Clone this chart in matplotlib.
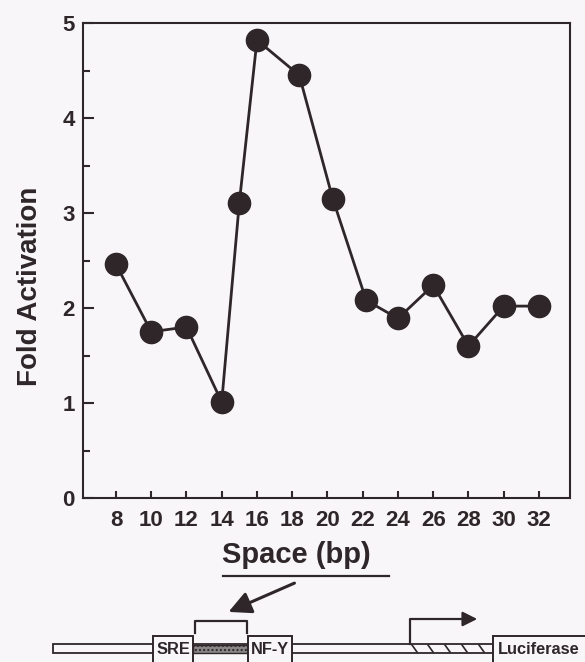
import matplotlib.pyplot as plt
from matplotlib.patches import Rectangle, FancyArrowPatch

# spacer length (bp) vs fold activation
space_bp = [8, 10, 12, 14, 15, 16, 18.4, 20.3, 22.2, 24, 26, 28, 30, 32]
fold_act = [2.46, 1.75, 1.80, 1.01, 3.11, 4.82, 4.45, 3.15, 2.08, 1.89, 2.24, 1.60, 2.02, 2.02]
x_ticks = [8, 10, 12, 14, 16, 18, 20, 22, 24, 26, 28, 30, 32]
y_ticks = [0, 1, 2, 3, 4, 5]

ink = '#2e2629'
bg = '#f8f6f8'
plt.rcParams['font.family'] = ['Liberation Sans', 'DejaVu Sans']
plt.rcParams['font.weight'] = 'bold'

fig = plt.figure(figsize=(5.85, 6.62), dpi=100, facecolor=bg)
ax = fig.add_axes([83/585, 1-498/662, (570-83)/585, (498-23)/662])
ax.set_facecolor(bg)
ax.plot(space_bp, fold_act, color=ink, lw=2, marker='o', ms=16, mfc=ink, mec=ink)

ax.set_xlim(6.13, 33.76)
ax.set_ylim(0, 5)
ax.set_xticks(x_ticks)
ax.set_yticks(y_ticks)
ax.set_yticks([0.5, 1.5, 2.5, 3.5, 4.5], minor=True)
ax.tick_params(axis='y', which='major', direction='in', length=8, width=1.5,
               labelsize=16, pad=6, colors=ink)
ax.tick_params(axis='y', which='minor', direction='in', length=5, width=1.5, colors=ink)
ax.tick_params(axis='x', direction='in', length=5, width=1.5, labelsize=16,
               pad=9, colors=ink)
for s in ax.spines.values():
    s.set_linewidth(1.5)
    s.set_color(ink)
for lab in ax.get_xticklabels() + ax.get_yticklabels():
    lab.set_fontweight('bold')

fig.text(30/585, 1-286/662, 'Fold Activation', rotation=90, ha='center', va='center',
         fontsize=20, fontweight='bold', color=ink)

# schematic of the construct, drawn in pixel space
ov = fig.add_axes([0, 0, 1, 1], zorder=5)
ov.set_xlim(0, 585)
ov.set_ylim(662, 0)
ov.axis('off')
ov.patch.set_visible(False)

ov.text(296, 563, 'Space (bp)', ha='center', va='baseline', fontsize=21,
        fontweight='bold', color=ink)
ov.plot([223, 389], [576, 576], color=ink, lw=1.6)
ov.add_patch(FancyArrowPatch((297, 582), (226, 613), arrowstyle='-|>',
                             mutation_scale=34, lw=2.2, color=ink))

# backbone double line
ov.add_patch(Rectangle((53, 644), 440, 9, fill=True, fc=bg, ec=ink, lw=1.3))
# spacer region
ov.add_patch(Rectangle((193, 645), 55, 8, fc='#8a8587', ec=ink, lw=1.0, hatch='....'))
ov.plot([195, 195, 247, 247], [633, 621, 621, 633], color=ink, lw=1.6)

# promoter hatching and start arrow
for hx in [412, 428, 445, 462, 479]:
    ov.plot([hx, hx + 5], [645, 652], color=ink, lw=1.2)
ov.plot([410, 410, 465], [644, 619, 619], color=ink, lw=1.6)
ov.add_patch(FancyArrowPatch((460, 619), (480, 619), arrowstyle='-|>',
                             mutation_scale=22, lw=1.6, color=ink))

boxes = [(153, 40, 'SRE'), (248, 44, 'NF-Y'), (493, 100, 'Luciferase')]
for bx, bw, name in boxes:
    ov.add_patch(Rectangle((bx, 636), bw, 40, fc=bg, ec=ink, lw=1.4, clip_on=True))
    cx = bx + bw / 2 if name != 'Luciferase' else 539
    ov.text(cx, 649, name, ha='center', va='center', fontsize=11.8,
            fontweight='bold', color=ink)

fig.savefig('out.png', dpi=100, facecolor=bg)
